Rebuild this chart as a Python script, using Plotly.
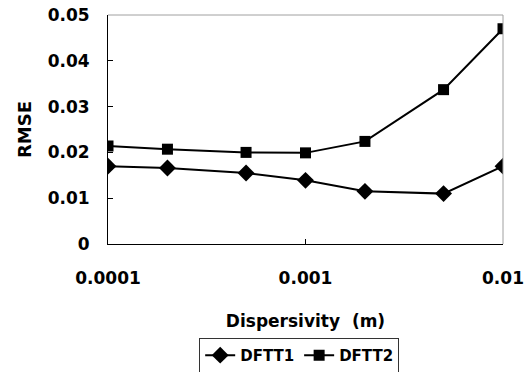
import plotly.graph_objects as go

dispersivity = [0.0001, 0.0002, 0.0005, 0.001, 0.002, 0.005, 0.01]
dftt1 = [0.0170, 0.0166, 0.0155, 0.0139, 0.0115, 0.0110, 0.0170]
dftt2 = [0.0214, 0.0207, 0.0200, 0.0199, 0.0224, 0.0337, 0.0470]
x_ticks = [0.0001, 0.001, 0.01]
x_ticktext = ["0.0001", "0.001", "0.01"]
y_ticks = [0, 0.01, 0.02, 0.03, 0.04, 0.05]
y_ticktext = ["0", "0.01", "0.02", "0.03", "0.04", "0.05"]

FONT = "DejaVu Sans"

fig = go.Figure()
fig.add_trace(go.Scatter(x=dispersivity, y=dftt1, name="DFTT1", mode="lines+markers",
                         line=dict(color="black", width=2),
                         marker=dict(symbol="diamond", size=13, color="black")))
fig.add_trace(go.Scatter(x=dispersivity, y=dftt2, name="DFTT2", mode="lines+markers",
                         line=dict(color="black", width=2),
                         marker=dict(symbol="square", size=11, color="black")))

fig.update_layout(
    width=525, height=372,
    margin=dict(l=108, r=22, t=15, b=128, autoexpand=False),
    plot_bgcolor="white", paper_bgcolor="white",
    font=dict(family=FONT, color="black"),
    showlegend=True,
    legend=dict(orientation="h", x=0.484, xanchor="center", y=-0.41, yanchor="top",
                bordercolor="#333333", borderwidth=1,
                font=dict(family=FONT, size=15, color="black", weight="bold"),
                tracegroupgap=0),
    shapes=[
        dict(type="line", xref="paper", yref="paper", x0=0, x1=1, y0=1, y1=1,
             line=dict(color="#a0a0a0", width=1)),
        dict(type="line", xref="paper", yref="paper", x0=1, x1=1, y0=0, y1=1,
             line=dict(color="#a0a0a0", width=1)),
    ],
)
fig.update_xaxes(type="log", range=[-4, -2], tickvals=x_ticks, ticktext=x_ticktext,
                 automargin=False,
                 showgrid=False, zeroline=False, showline=True, linecolor="black", linewidth=1,
                 ticks="inside", ticklen=5, tickcolor="black",
                 ticklabelstandoff=19,
                 tickfont=dict(family=FONT, size=17, color="black", weight="bold"),
                 title=dict(text="Dispersivity  (m)", standoff=27,
                            font=dict(family=FONT, size=17, color="black", weight="bold")))
fig.update_yaxes(range=[0, 0.05], tickvals=y_ticks, ticktext=y_ticktext,
                 automargin=False,
                 showgrid=False, zeroline=False, showline=True, linecolor="black", linewidth=1,
                 ticks="inside", ticklen=5, tickcolor="black",
                 ticklabelstandoff=14,
                 tickfont=dict(family=FONT, size=17, color="black", weight="bold"),
                 title=dict(text="RMSE", standoff=11,
                            font=dict(family=FONT, size=18, color="black", weight="bold")))

fig.write_html("out.html", config={"displayModeBar": False},
               post_script="document.body.style.margin='0';document.body.style.overflow='hidden';")
